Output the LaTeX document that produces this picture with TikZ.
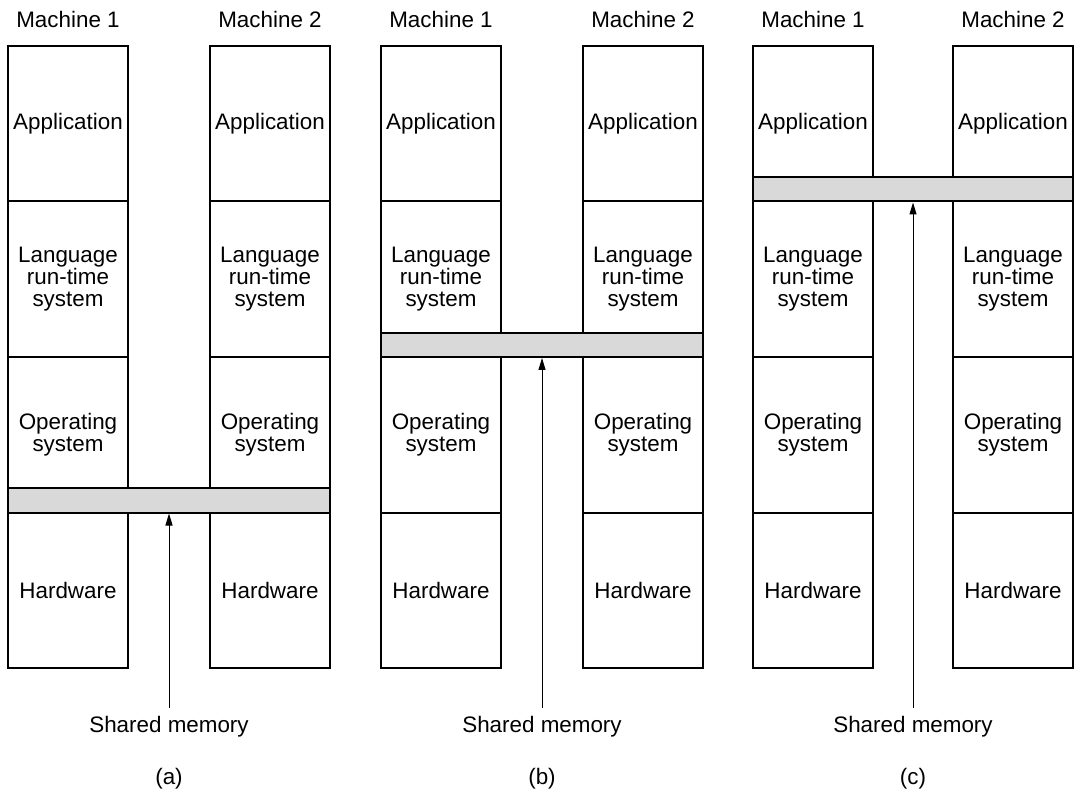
\documentclass[tikz,border=0pt]{standalone}
\usepackage{fontspec}
\setmainfont{Liberation Sans}
\usetikzlibrary{positioning,arrows.meta}
\definecolor{memgray}{HTML}{D9D9D9}

\begin{document}
\begin{tikzpicture}[
  x=0.5pt, y=-0.5pt,
  every node/.style={font=\fontsize{11.2}{11}\selectfont},
  layer/.style={draw, line width=1pt, minimum width=60pt, minimum height=77.75pt,
    inner sep=0pt, outer sep=0pt, align=center},
  shm/.style={draw, line width=1pt, fill=memgray},
  memlabel/.style={inner sep=4pt},
  memarrow/.style={-{Triangle[length=6pt,width=3.5pt]}, line width=0.5pt, shorten >=0.5pt}
]
\useasboundingbox (0,0) rectangle (1074,795);

% (a) shared memory below the operating system
\begin{scope}
  \node (m1a) at (68,20) {Machine 1};
  \node (m2a) at (270,20) {Machine 2};
  \node[layer] (app1a) at (68,123.75) {Application};
  \node[layer, below=0pt of app1a] (lang1a) {Language\\run-time\\system};
  \node[layer, below=0pt of lang1a] (os1a) {Operating\\system};
  \node[layer, below=0pt of os1a] (hw1a) {Hardware};
  \node[layer] (app2a) at (270,123.75) {Application};
  \node[layer, below=0pt of app2a] (lang2a) {Language\\run-time\\system};
  \node[layer, below=0pt of lang2a] (os2a) {Operating\\system};
  \node[layer, below=0pt of os2a] (hw2a) {Hardware};
  \draw[shm] (os1a.south west) rectangle ([yshift=12pt]os2a.south east);
  \node[memlabel] (sma) at (169,727) {Shared memory};
  \draw[memarrow] (sma.north) -- (sma.north |- os1a.south);
  \node (capa) at (169,779) {(a)};
\end{scope}

% (b) shared memory below the run-time system
\begin{scope}
  \node (m1b) at (441,20) {Machine 1};
  \node (m2b) at (643,20) {Machine 2};
  \node[layer] (app1b) at (441,123.75) {Application};
  \node[layer, below=0pt of app1b] (lang1b) {Language\\run-time\\system};
  \node[layer, below=0pt of lang1b] (os1b) {Operating\\system};
  \node[layer, below=0pt of os1b] (hw1b) {Hardware};
  \node[layer] (app2b) at (643,123.75) {Application};
  \node[layer, below=0pt of app2b] (lang2b) {Language\\run-time\\system};
  \node[layer, below=0pt of lang2b] (os2b) {Operating\\system};
  \node[layer, below=0pt of os2b] (hw2b) {Hardware};
  \draw[shm] (lang1b.south west) rectangle ([yshift=12pt]lang2b.south east);
  \node[memlabel] (smb) at (542,727) {Shared memory};
  \draw[memarrow] (smb.north) -- (smb.north |- lang1b.south);
  \node (capb) at (542,779) {(b)};
\end{scope}

% (c) shared memory below the application
\begin{scope}
  \node (m1c) at (813,20) {Machine 1};
  \node (m2c) at (1013,20) {Machine 2};
  \node[layer] (app1c) at (813,123.75) {Application};
  \node[layer, below=0pt of app1c] (lang1c) {Language\\run-time\\system};
  \node[layer, below=0pt of lang1c] (os1c) {Operating\\system};
  \node[layer, below=0pt of os1c] (hw1c) {Hardware};
  \node[layer] (app2c) at (1013,123.75) {Application};
  \node[layer, below=0pt of app2c] (lang2c) {Language\\run-time\\system};
  \node[layer, below=0pt of lang2c] (os2c) {Operating\\system};
  \node[layer, below=0pt of os2c] (hw2c) {Hardware};
  \draw[shm] (app1c.south west) rectangle ([yshift=12pt]app2c.south east);
  \node[memlabel] (smc) at (913,727) {Shared memory};
  \draw[memarrow] (smc.north) -- (smc.north |- app1c.south);
  \node (capc) at (913,779) {(c)};
\end{scope}
\end{tikzpicture}
\end{document}
